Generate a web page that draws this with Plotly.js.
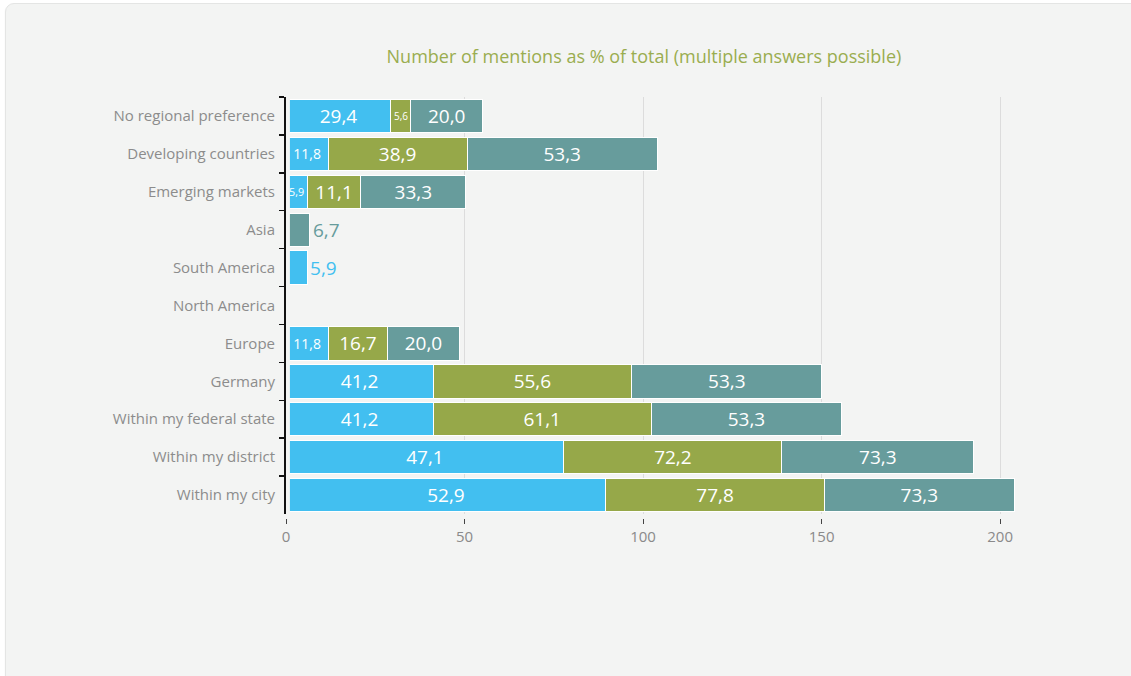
<!DOCTYPE html>
<html>
<head>
<meta charset="utf-8">
<script src="https://cdn.plot.ly/plotly-3.0.1.min.js"></script>
<style>
  html, body { margin: 0; padding: 0; background: #ffffff; overflow: hidden; width: 1131px; height: 676px; }
  #card { position: absolute; left: 5px; top: 3px; width: 1200px; height: 800px; background: #f3f4f3;
          border: 1px solid #e4e5e4; border-radius: 9px; box-shadow: 0 1px 2px rgba(0,0,0,0.06); }
  #chart { position: absolute; left: 0; top: 0; width: 1131px; height: 676px; }
</style>
</head>
<body>
<div id="card"></div>
<div id="chart"></div>
<script>
// Categories, top to bottom
const categories = [
  "No regional preference", "Developing countries", "Emerging markets", "Asia",
  "South America", "North America", "Europe", "Germany",
  "Within my federal state", "Within my district", "Within my city"
];

// Printed labels (values shown on the bars, %)
const blueLabel  = [29.4, 11.8, 5.9, null, 5.9, null, 11.8, 41.2, 41.2, 47.1, 52.9];
const oliveLabel = [5.6, 38.9, 11.1, null, null, null, 16.7, 55.6, 61.1, 72.2, 77.8];
const tealLabel  = [20.0, 53.3, 33.3, 6.7, null, null, 20.0, 53.3, 53.3, 73.3, 73.3];

// Bar lengths as drawn in the reference (some segments differ from their printed labels)
const blueBar  = [29.4, 11.8, 5.9, null, 5.9, null, 11.8, 41.2, 41.2, 77.8, 89.6];
const oliveBar = [5.6, 38.9, 15.1, null, null, null, 16.7, 55.6, 61.1, 61.1, 61.1];
const tealBar  = [20.0, 53.3, 29.3, 6.7, null, null, 20.0, 53.3, 53.3, 53.7, 53.3];

const xTicks = [0, 50, 100, 150, 200];

const colors = { blue: "#42bff0", olive: "#96a849", teal: "#679c9c" };
const bg = "#f3f4f3";
const font = "'Open Sans', 'Noto Sans', sans-serif";

const fmt = v => (v === null ? "" : v.toFixed(1).replace(".", ","));

// a row with a single segment gets its label outside the bar
function positions(bars) {
  return bars.map((v, i) => {
    const n = [blueBar[i], oliveBar[i], tealBar[i]].filter(x => x !== null).length;
    return n === 1 ? "outside" : "inside";
  });
}

function makeTrace(bars, labels, color) {
  const pos = positions(bars);
  const sizes = bars.map((v, i) => (pos[i] === "inside" && v !== null && v < 13 ? 14 : 19));
  return {
    type: "bar",
    orientation: "h",
    y: categories,
    x: bars,
    text: labels.map(fmt),
    textposition: pos,
    insidetextanchor: "middle",
    textangle: 0,
    texttemplate: "%{text}",
    hoverinfo: "y+text",
    textfont: { family: font, size: sizes, color: "#ffffff" },
    insidetextfont: { family: font, size: sizes, color: "#ffffff" },
    outsidetextfont: { family: font, size: 19, color: color },
    marker: { color: color, line: { color: "#ffffff", width: 1 } },
    cliponaxis: false
  };
}

const data = [
  makeTrace(blueBar, blueLabel, colors.blue),
  makeTrace(oliveBar, oliveLabel, colors.olive),
  makeTrace(tealBar, tealLabel, colors.teal)
];

const layout = {
  width: 1131,
  height: 676,
  paper_bgcolor: "rgba(0,0,0,0)",
  plot_bgcolor: "rgba(0,0,0,0)",
  margin: { l: 286, r: 113, t: 97, b: 158, pad: 0 },
  barmode: "stack",
  bargap: 0.12,
  showlegend: false,
  font: { family: font, color: "#8a8a8a", size: 14 },
  title: {
    text: "Number of mentions as % of total (multiple answers possible)",
    font: { family: font, size: 18, color: "#9aad4f" },
    xref: "paper", x: 0.489, xanchor: "center",
    yref: "container", y: 1 - 57 / 676, yanchor: "middle"
  },
  xaxis: {
    range: [0, 205],
    tickvals: xTicks,
    ticktext: xTicks.map(String),
    showgrid: true,
    gridcolor: "#dcdcdc",
    gridwidth: 1,
    zeroline: false,
    showline: false,
    ticks: "outside",
    ticklen: 5,
    tickwidth: 1,
    tickcolor: "#444444",
    tickfont: { family: font, size: 15, color: "#8a8a8a" },
    anchor: "free",
    position: 0,
    fixedrange: true
  },
  yaxis: {
    type: "category",
    categoryorder: "array",
    categoryarray: categories,
    autorange: "reversed",
    domain: [4 / 421, 1],
    showline: true,
    linecolor: "#111111",
    linewidth: 2,
    ticks: "outside",
    tickson: "boundaries",
    ticklen: 5,
    tickwidth: 1.5,
    tickcolor: "#111111",
    ticklabelstandoff: 6,
    showgrid: false,
    zeroline: false,
    tickfont: { family: font, size: 15, color: "#8c8c8c" },
    fixedrange: true
  },
  shapes: [{
    type: "rect", xref: "x", yref: "paper",
    x0: 0, x1: 1.1, y0: 0, y1: 1,
    fillcolor: bg, line: { width: 0 }, layer: "above"
  }]
};

Plotly.newPlot("chart", data, layout, { displayModeBar: false, staticPlot: true });
</script>
</body>
</html>
